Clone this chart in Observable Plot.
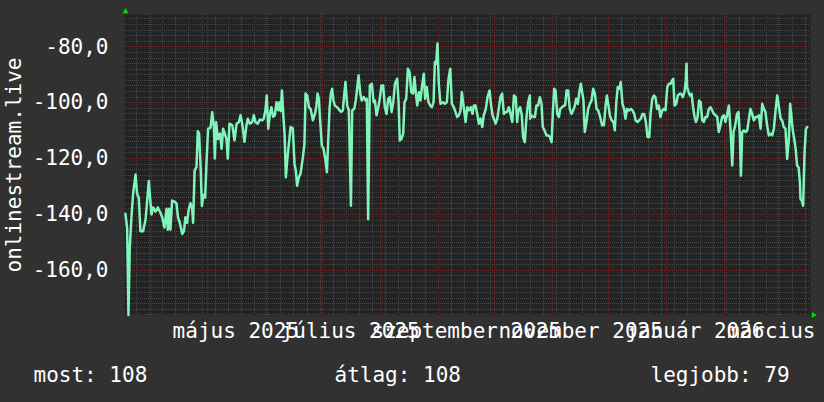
<!DOCTYPE html>
<html>
<head>
<meta charset="utf-8">
<script src="https://cdn.jsdelivr.net/npm/d3@7"></script>
<script src="https://cdn.jsdelivr.net/npm/@observablehq/plot@0.6"></script>
<style>
  html, body { margin: 0; padding: 0; background: #313131; }
  #chart svg { display: block; }
</style>
</head>
<body>
<div id="chart"></div>
<script>
// ---- data (days counted from 2025-04-01 UTC) ----
const sampleDays = [
-13.9,-13.0,-12.3,-11.6,-10.7,-9.8,-8.5,-7.7,-6.8,-5.9,-4.5,-3.2,-2.3,-1.4,-0.9,0,0.9,2.1,3.4,4.8,
5.7,6.9,8.0,8.7,9.4,10.1,11.0,12.3,13.3,14.1,15.1,16.4,17.3,18.1,19.0,19.9,20.8,21.7,22.2,23.0,
24.0,24.7,25.4,26.2,26.9,27.6,28.6,29.4,30.2,31.5,32.4,33.3,33.8,34.5,35.4,36.5,37.4,38.2,39.1,40.0,
40.7,41.6,43.1,44.3,45.4,46.6,47.5,48.4,49.6,50.7,51.4,52.5,53.7,54.6,55.5,56.7,57.8,
59.1,59.9,60.8,61.5,62.3,63.2,64.0,64.9,65.8,66.7,67.6,68.3,69.0,69.6,70.3,71.0,71.7,72.4,73.3,74.2,
75.4,76.3,77.0,77.7,78.6,79.5,80.8,81.6,82.2,83.1,84.0,84.9,86.1,87.2,87.9,88.6,89.3,90.0,90.9,91.8,
92.7,93.6,94.3,95.0,95.7,96.4,97.1,97.8,99.1,100.3,101.2,102.1,102.8,103.5,104.4,105.3,106.4,107.1,108.2,109.0,
109.8,110.5,111.4,112.2,113.3,114.2,114.9,115.6,116.5,117.6,118.5,119.2,120.1,121.0,121.8,122.7,123.6,124.5,125.4,126.3,
127.2,128.1,129.0,129.9,
131.1,131.8,132.5,133.4,134.3,135.0,135.9,136.8,137.7,138.6,139.5,140.3,141.1,141.8,142.7,143.5,144.4,145.3,146.0,146.9,
147.8,148.7,149.6,150.5,151.2,151.9,152.6,153.3,154.2,155.5,156.5,157.6,158.5,159.4,160.3,161.3,162.2,163.1,164.0,164.9,
165.6,166.5,167.6,168.5,169.5,170.4,171.3,172.0,172.9,173.8,174.7,175.6,176.5,177.3,178.4,179.3,180.4,181.1,182.0,182.7,
183.6,184.5,185.3,186.2,187.1,188.0,188.9,189.8,190.7,191.6,192.5,193.4,194.4,195.1,195.8,196.7,197.6,198.3,199.2,200.1,
201.0,201.9,
202.1,202.8,203.7,204.6,205.4,206.3,207.2,208.1,208.8,209.7,210.8,211.7,212.6,213.5,214.2,214.9,215.6,216.5,217.4,218.1,
219.1,220.0,220.7,221.5,222.3,223.2,224.1,225.0,225.9,226.6,227.5,228.4,229.1,229.8,230.5,231.2,232.1,233.0,233.9,234.8,
235.7,236.6,237.5,238.4,239.4,240.5,241.4,242.3,243.0,243.7,244.6,245.5,246.5,247.2,248.1,248.8,249.7,250.4,251.3,252.2,
252.9,253.8,254.7,255.8,256.7,257.6,258.3,259.3,260.2,261.1,262.0,262.9,263.8,264.7,265.6,266.3,267.2,268.1,268.9,269.8,
270.7,271.6,272.5,273.4,
274.3,275.2,276.1,277.0,277.8,278.4,279.1,280.0,280.9,281.8,282.6,283.5,284.4,285.1,285.5,285.8,286.6,287.3,288.2,289.0,
289.8,290.5,291.4,292.2,293.0,293.9,294.7,295.6,296.5,297.4,298.3,299.2,300.1,301.0,301.9,302.7,303.6,304.5,305.4,306.3,
307.2,308.1,309.0,309.9,310.6,311.5,312.4,313.2,314.0,314.5,315.2,316.1,317.0,317.9,318.8,319.6,320.5,321.4,322.3,323.2,
324.1,325.0,325.9,326.8,327.6,328.5,329.4,330.3,331.2,332.1,333.0,333.9,334.8,335.7,336.5,337.4,338.3,339.2,340.1,340.8,
341.5,342.2,343.1,343.8,344.5,345.3,346.0,346.3,347.0,347.7,348.5,349.2,349.9
];
const signalValues = [
-139.8,-145,-176,-152,-141,-132.5,-125.7,-132.6,-134,-146,-146,-142,-135,-128,-133,-140,-137.5,-139,-137.5,-139.5,
-141,-144.7,-138,-145.5,-138,-145.5,-135,-135.5,-136,-141,-143,-147,-146,-141,-143,-138,-136,-138,-143,-124.3,
-123,-110.2,-111,-123,-137,-133,-134,-120.7,-109.3,-109,-103.4,-108.5,-120,-107,-113,-111,-116.5,-109.3,-111,-113,
-120,-107.5,-108,-113.5,-107.5,-107,-104.5,-107.5,-114,-108,-105.7,-107.5,-107,-104.5,-107,-107.5,-106,
-106.3,-105.7,-102.7,-97.4,-109.3,-104,-101.6,-105,-104.5,-99.8,-102.7,-99.8,-103,-95.6,-104,-111.1,-126.7,-120.7,-114.7,-108.7,
-109.2,-121.9,-124.3,-129.7,-126.7,-125.5,-119.5,-114.7,-96.7,-97.4,-101.6,-102.2,-106.3,-104,-101.6,-96.7,-98.5,-106.3,-115.3,-116.5,
-120,-124.9,-113.5,-102.1,-96.7,-95,-99.2,-101,-101.6,-102.7,-103.3,-102.7,-97.4,-92.6,-101,-102.7,-136.9,-102.7,-102.2,-99.2,
-94.4,-90.2,-96.7,-99.2,-98,-99.2,-98.6,-141.7,-93.8,-93.2,-99.8,-99.2,-104.5,-101.6,-98.6,-93.8,-93.8,-101.6,-104,-98.6,
-98,-103.3,-99.8,-93.2,
-91.4,-99.2,-113.5,-112.9,-111.1,-99.8,-98.6,-87.8,-89,-96.2,-96.7,-90.8,-96.7,-101,-96.2,-99.2,-93.8,-89.6,-98.6,-94.4,
-99.8,-101,-101.6,-99.8,-85.4,-86,-78.8,-93.2,-100.4,-99.8,-100.4,-99.8,-91.4,-87.8,-100.4,-101.6,-103.3,-105.1,-104.5,-102.7,
-96.2,-101,-106.9,-101.6,-102.7,-101.6,-104,-101,-101,-104,-107.5,-105.7,-108.7,-104.5,-102.2,-98,-95.6,-100.4,-104.5,-105.7,
-107.5,-105.7,-102.2,-98,-96.7,-104,-103.3,-103.3,-101.6,-104,-106.9,-97.4,-98,-106.9,-102.7,-101.6,-104.5,-112.3,-114.1,-105.1,
-99.8,-97.4,
-105.7,-104.5,-105.1,-105.1,-101,-101,-98,-100.4,-108.7,-109.9,-111.7,-111.7,-112.3,-114.1,-102.8,-95,-95.6,-104,-105.1,-102.2,
-101.6,-101,-101,-95.6,-95.6,-102.2,-104,-102.8,-101,-98.6,-100.4,-95.6,-93.2,-96.2,-99.2,-110.5,-106.9,-102.2,-100.4,-99.2,
-95,-96.8,-102.2,-102.8,-105.1,-108.1,-108.1,-101,-97.4,-100.4,-104.5,-106.3,-106.9,-109.9,-99.2,-94.4,-95,-92.6,-100.4,-102.2,
-105.7,-102.2,-102.8,-102.2,-102.8,-104,-106.3,-106.9,-106.3,-105.7,-104,-104,-106.9,-112.3,-112.3,-104,-98.6,-97.4,-98,-102.2,
-101,-105.1,-102.8,-102.2,
-102.7,-94.4,-93.2,-93.2,-92,-91.4,-101,-100.4,-97.4,-96.8,-96.8,-98,-96.2,-92,-86,-94.4,-96.2,-97.4,-96.8,-101.6,
-105.1,-106.9,-105.1,-99.2,-99.8,-106.3,-106.9,-105.1,-105.1,-102.2,-101.6,-102.8,-104,-104.5,-105.1,-110.5,-108.1,-105.1,-104.5,-106.9,
-104,-101,-109.9,-122.5,-110.5,-108.1,-104,-103.3,-112.3,-126.1,-110.5,-109.9,-110.5,-109.9,-105.7,-102.2,-104,-106.3,-105.1,-105.1,
-104.5,-109.3,-100.4,-102.2,-103.3,-108.1,-111.7,-111.1,-111.7,-109.3,-102.8,-97.4,-101.6,-105.7,-106.3,-108.7,-109.3,-120.1,-112.9,-100.4,
-105.1,-109.9,-113.5,-117.1,-122.5,-123.1,-128.5,-134.5,-135.1,-136.9,-117.7,-109.3,-108.7
];
const yTicks = [-160, -140, -120, -100, -80];
const yDomain = [-176.2, -68.4];
const monthLabels = ["május 2025", "július 2025", "szeptember 2025", "november 2025", "január 2026", "március"];
const monthLabelDays = [45, 106, 168, 229, 290];
const axisTitle = "onlinestream.live";
const legendNames = ["most", "átlag", "legjobb"];
const legendValues = [108, 108, 79];
const xDomainDays = [-14.41, 351.65];

// ---- build ----
const origin = Date.UTC(2025, 3, 1);
const toDate = d => new Date(origin + d * 864e5);
const data = sampleDays.map((d, i) => ({date: toDate(d), value: signalValues[i]}));
const xDomain = xDomainDays.map(toDate);
const minorY = d3.range(-176, -68, 2).filter(v => v % 20 !== 0);
const weeks = d3.utcMonday.range(xDomain[0], xDomain[1]);
const months = d3.utcMonth.range(xDomain[0], xDomain[1]);
const labelRows = monthLabelDays.map((d, i) => ({date: toDate(d), text: monthLabels[i]}));
const fmt = v => v.toFixed(1).replace(".", ",");

const font = "DejaVu Sans Mono";
const minorStroke = "#474747";
const majorStroke = "#652a2a";
const textColor = "#ffffff";
const arrowColor = "#00dd00";

const legendOffsets = [-91, 210, 526];

const chart = Plot.plot({
  width: 824,
  height: 402,
  marginLeft: 124,
  marginRight: 14,
  marginTop: 14,
  marginBottom: 87,
  style: {background: "#313131", color: textColor, fontFamily: font, fontSize: "21px"},
  x: {type: "utc", domain: xDomain, axis: null},
  y: {domain: yDomain, label: null},
  marks: [
    Plot.frame({fill: "#232323", stroke: null}),
    Plot.ruleY(minorY, {stroke: minorStroke, strokeDasharray: "1,1", shapeRendering: "crispEdges"}),
    Plot.ruleX(weeks, {stroke: minorStroke, strokeDasharray: "1,1", shapeRendering: "crispEdges"}),
    Plot.ruleY(yTicks, {stroke: majorStroke, strokeDasharray: "1,1", shapeRendering: "crispEdges"}),
    Plot.ruleX(months, {stroke: majorStroke, strokeDasharray: "1,1", shapeRendering: "crispEdges"}),
    Plot.line(data, {x: "date", y: "value", stroke: "#7ff5bb", strokeWidth: 2.5}),
    Plot.axisY(yTicks, {tickSize: 0, tickPadding: 16, tickFormat: fmt, fill: textColor, fontSize: 21, label: null}),
    Plot.text(labelRows, {x: "date", text: "text", frameAnchor: "bottom", dy: 22, fill: textColor, fontSize: 21}),
    Plot.text([monthLabels[5]], {text: d => d, frameAnchor: "bottom-right", textAnchor: "end", dx: 5, dy: 22, fill: textColor, fontSize: 21}),
    Plot.text([axisTitle], {text: d => d, frameAnchor: "left", textAnchor: "middle", rotate: -90, dx: -110, fill: textColor, fontSize: 21}),
    ...legendNames.map((n, i) => Plot.text([`${n}: ${legendValues[i]}`], {text: d => d, frameAnchor: "bottom-left", textAnchor: "start", dx: legendOffsets[i], dy: 66, fill: textColor, fontSize: 21})),
    Plot.dot([0], {frameAnchor: "top-left", symbol: "triangle", r: 2.2, fill: arrowColor, stroke: null, dx: 1, dy: -3}),
    Plot.dot([0], {frameAnchor: "bottom-right", symbol: "triangle", r: 2.2, fill: arrowColor, stroke: null, rotate: 90, dx: 3, dy: -0.5})
  ]
});
document.getElementById("chart").appendChild(chart);
</script>
</body>
</html>
